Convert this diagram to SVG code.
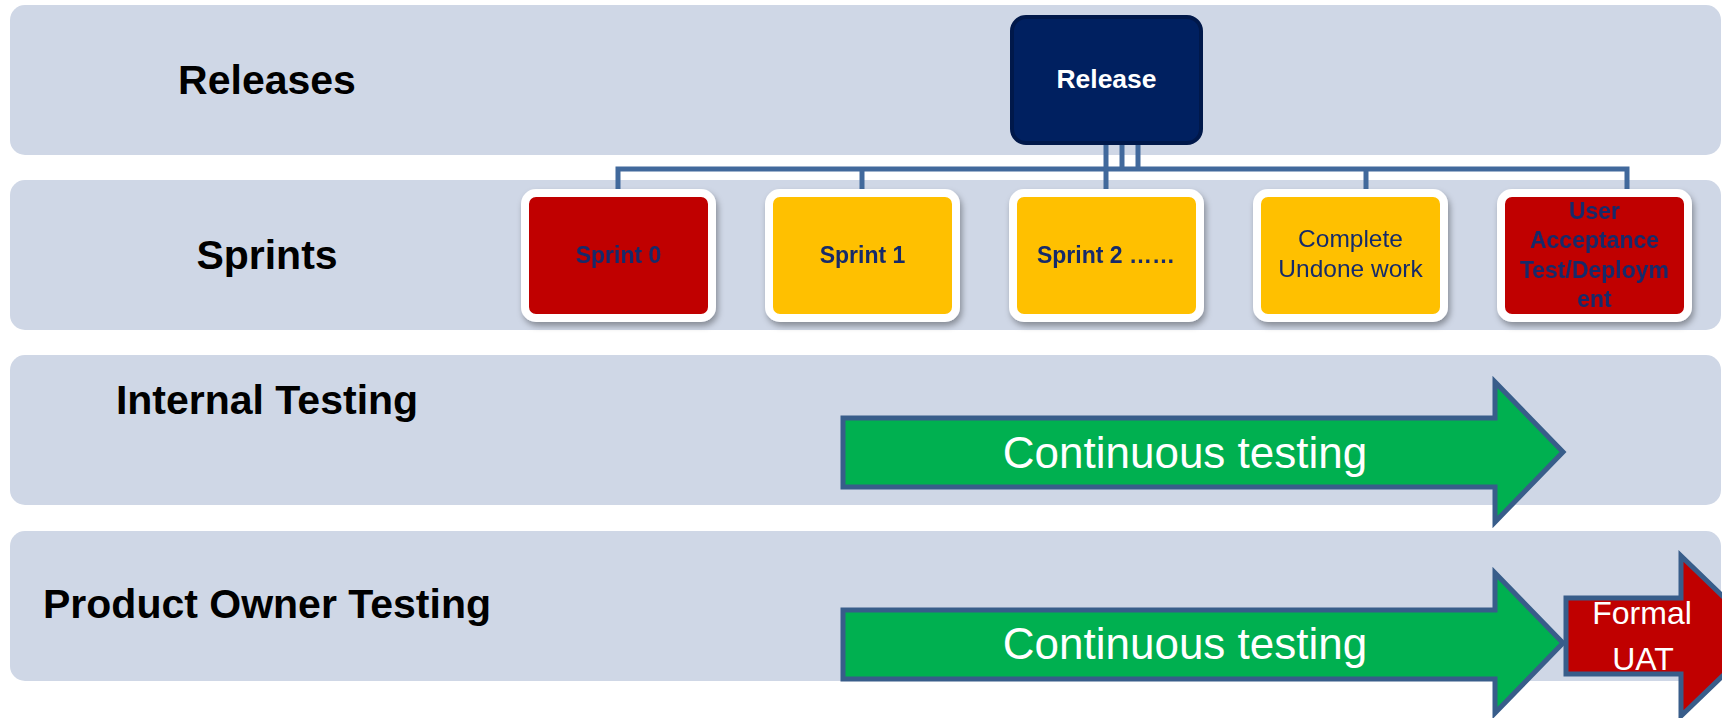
<svg xmlns="http://www.w3.org/2000/svg" width="1722" height="718" viewBox="0 0 1722 718">
<style>
.lane{fill:#CFD7E6}
.lanetxt{font-family:"Liberation Sans",Arial,sans-serif;font-weight:bold;font-size:41px;fill:#000;text-anchor:middle}
.card{stroke:#FFFFFF;stroke-width:8}
.red{fill:#C00000}
.yel{fill:#FFC000}
.ctxt{font-family:"Liberation Sans",Arial,sans-serif;font-weight:bold;font-size:23px;fill:#152B6A;text-anchor:middle}
.ctxtr{font-family:"Liberation Sans",Arial,sans-serif;font-size:24.5px;fill:#152B6A;text-anchor:middle}
.conn{fill:none;stroke:#41699C;stroke-width:5}
.arrow{stroke:#385D8A;stroke-width:5;stroke-linejoin:miter}
.atxt{font-family:"Liberation Sans",Arial,sans-serif;font-size:44px;fill:#FFFFFF;text-anchor:middle}
</style>
<defs>
<filter id="sh" x="-10%" y="-10%" width="125%" height="130%">
<feDropShadow dx="2" dy="4" stdDeviation="3" flood-color="#000" flood-opacity="0.35"/>
</filter>
</defs>
<g id="lanes">
<g id="lane-releases"><rect class="lane" x="10" y="5" width="1711" height="150" rx="15"/><text class="lanetxt" x="267" y="94">Releases</text></g>
<g id="lane-sprints"><rect class="lane" x="10" y="180" width="1711" height="150" rx="15"/><text class="lanetxt" x="267" y="269">Sprints</text></g>
<g id="lane-internal"><rect class="lane" x="10" y="355" width="1711" height="150" rx="15"/><text class="lanetxt" x="267" y="414">Internal Testing</text></g>
<g id="lane-po"><rect class="lane" x="10" y="531" width="1711" height="150" rx="15"/><text class="lanetxt" x="267" y="618">Product Owner Testing</text></g>
</g>
<g id="connectors">
<path class="conn" d="M618 189 V169 H1627 V189"/>
<path class="conn" d="M862 169 V189"/>
<path class="conn" d="M1106 145 V189"/>
<path class="conn" d="M1122 145 V169"/>
<path class="conn" d="M1138 145 V169"/>
<path class="conn" d="M1366 169 V189"/>
</g>
<g id="release">
<rect x="1012" y="17" width="189" height="126" rx="14" fill="#002060" stroke="#00184A" stroke-width="4"/>
<text x="1106.5" y="88" font-family="Liberation Sans, Arial, sans-serif" font-weight="bold" font-size="26.5" fill="#FFFFFF" text-anchor="middle">Release</text>
</g>
<g id="sprint0" filter="url(#sh)">
<rect class="card red" x="525" y="193" width="187" height="125" rx="11"/>
<text class="ctxt" x="618.5" y="263">Sprint 0</text>
</g>
<g id="sprint1" filter="url(#sh)">
<rect class="card yel" x="769" y="193" width="187" height="125" rx="11"/>
<text class="ctxt" x="862.5" y="263">Sprint 1</text>
</g>
<g id="sprint2" filter="url(#sh)">
<rect class="card yel" x="1013" y="193" width="187" height="125" rx="11"/>
<text class="ctxt" x="1106" y="263">Sprint 2 ……</text>
</g>
<g id="undone" filter="url(#sh)">
<rect class="card yel" x="1257" y="193" width="187" height="125" rx="11"/>
<text class="ctxtr" x="1350.5" y="247">Complete</text>
<text class="ctxtr" x="1350.5" y="277">Undone work</text>
</g>
<g id="uat" filter="url(#sh)">
<rect class="card red" x="1501" y="193" width="187" height="125" rx="11"/>
<text class="ctxt" x="1594.5" y="219">User</text>
<text class="ctxt" x="1594.5" y="248">Acceptance</text>
<text class="ctxt" x="1594.5" y="278">Test/Deploym</text>
<text class="ctxt" x="1594.5" y="307">ent</text>
</g>
<g id="internal-arrow">
<polygon class="arrow" fill="#00B050" points="843,418 1495,418 1495,382 1563,452 1495,522 1495,487 843,487"/>
<text class="atxt" x="1185" y="468">Continuous testing</text>
</g>
<g id="po-arrow">
<polygon class="arrow" fill="#00B050" points="843,610 1495,610 1495,573 1563,643 1495,713 1495,679 843,679"/>
<text class="atxt" x="1185" y="659">Continuous testing</text>
</g>
<g id="formal-uat">
<polygon class="arrow" fill="#C00000" points="1566,598 1681,598 1681,556 1764,636 1681,716 1681,674 1566,674"/>
<text x="1642" y="624" font-family="Liberation Sans, Arial, sans-serif" font-size="32" fill="#FFFFFF" text-anchor="middle">Formal</text>
<text x="1643" y="670" font-family="Liberation Sans, Arial, sans-serif" font-size="32" fill="#FFFFFF" text-anchor="middle">UAT</text>
</g>
</svg>
